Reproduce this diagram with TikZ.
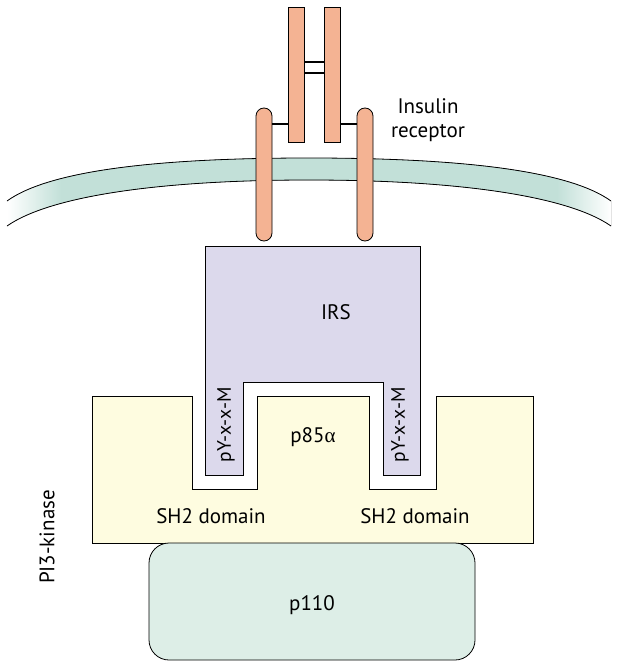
\documentclass[tikz,border=0pt]{standalone}
\usepackage{fontspec}
\setmainfont{PT Sans}
\newfontfamily\grk{Liberation Serif}
\definecolor{rec}{HTML}{F4B393}
\definecolor{mem}{HTML}{C2E0D8}
\definecolor{irs}{HTML}{DCD9EC}
\definecolor{pes}{HTML}{FEFCE0}
\definecolor{pio}{HTML}{DDEEE7}
\pgfdeclarehorizontalshading{membshade}{100bp}{color(0bp)=(white); color(25bp)=(white); color(29.5bp)=(mem); color(70.5bp)=(mem); color(75bp)=(white); color(100bp)=(white)}
\begin{document}
\begin{tikzpicture}[x=1pt,y=-1pt,
  outl/.style={draw=black,line width=0.8pt},
  bar/.style={outl,fill=rec,rectangle,inner sep=0pt,minimum width=16pt,minimum height=135pt},
  rod/.style={outl,fill=rec,rectangle,rounded corners=8pt,inner sep=0pt,minimum width=16pt,minimum height=133pt},
  link/.style={draw=black,line width=2.4pt},
  lbl/.style={font=\fontsize{21}{24}\selectfont,align=center,inner sep=0pt},
  plbl/.style={font=\fontsize{19.5}{23}\selectfont,inner sep=0pt,rotate=90}]
\useasboundingbox (0,0) rectangle (618,661);
% membrane
\fill[shading=membshade] (7,201) .. controls (50,170) and (160,158) .. (309,158)
  .. controls (458,158) and (568,170) .. (611,201)
  -- (611,226) .. controls (568,196) and (458,180) .. (309,180)
  .. controls (160,180) and (50,196) .. (7,226) -- cycle;
\draw[line width=0.8pt] (7,201) .. controls (50,170) and (160,158) .. (309,158)
  .. controls (458,158) and (568,170) .. (611,201);
\draw[line width=0.8pt] (7,226) .. controls (50,196) and (160,180) .. (309,180)
  .. controls (458,180) and (568,196) .. (611,226);
% receptor
\node[bar] (tl) at (296,74.5) {};
\node[bar] (tr) at (332.5,74.5) {};
\node[rod] (rl) at (264,174.5) {};
\node[rod] (rr) at (365,174.5) {};
\coordinate (c1) at (0,62);
\coordinate (c2) at (0,73);
\coordinate (c3) at (0,124);
\draw[link] (tl.east |- c1) -- (tr.west |- c1);
\draw[link] (tl.east |- c2) -- (tr.west |- c2);
\draw[link] (rl.east |- c3) -- (tl.west |- c3);
\draw[link] (tr.east |- c3) -- (rr.west |- c3);
% IRS
\draw[outl,fill=irs] (205,246) -- (420,246) -- (420,475) -- (383,475) -- (383,382)
  -- (243,382) -- (243,475) -- (205,475) -- cycle;
% p85
\draw[outl,fill=pes] (92,396) -- (192,396) -- (192,489) -- (257,489) -- (257,396)
  -- (369,396) -- (369,489) -- (436,489) -- (436,396) -- (533,396) -- (533,543)
  -- (92,543) -- cycle;
% p110
\draw[outl,fill=pio,rounded corners=20pt] (149,543) rectangle (475,660);
% labels
\node[lbl] (ins) at (428,120) {Insulin\\receptor};
\node[lbl] (irsl) at (336,312) {IRS};
\node[lbl] (p85) at (313,437) {p85{\grk α}};
\node[plbl] (py1) at (226,425) {pY-x-x-M};
\node[plbl] (py2) at (400,425) {pY-x-x-M};
\node[lbl] (sh1) at (211,516) {SH2 domain};
\node[lbl] (sh2) at (415,516) {SH2 domain};
\node[lbl,rotate=90] (pi3) at (47,537) {PI3-kinase};
\node[lbl] (p110) at (312,605) {p110};
\end{tikzpicture}
\end{document}
